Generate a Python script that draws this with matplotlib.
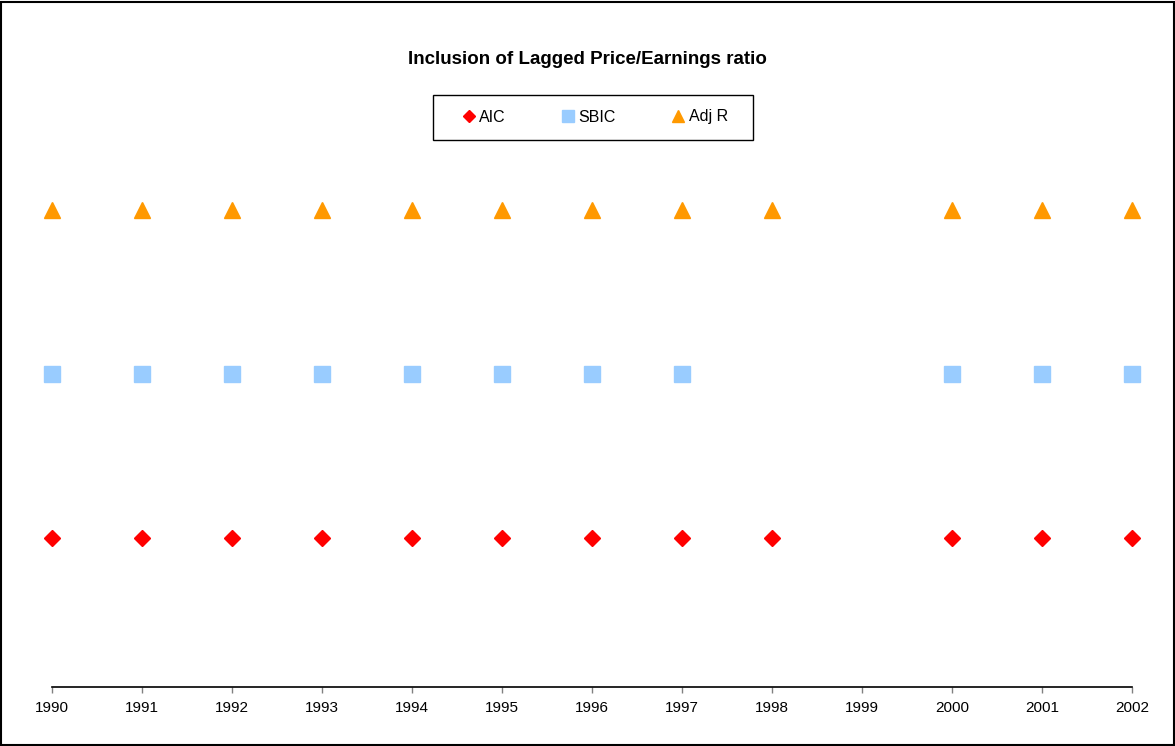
import numpy as np
import matplotlib.pyplot as plt
from matplotlib.patches import Rectangle

plt.rcParams['font.family'] = ['Liberation Sans', 'DejaVu Sans']

years = [1990, 1991, 1992, 1993, 1994, 1995, 1996, 1997, 1998, 1999, 2000, 2001, 2002]
aic = [1, 1, 1, 1, 1, 1, 1, 1, 1, np.nan, 1, 1, 1]
sbic = [2, 2, 2, 2, 2, 2, 2, 2, np.nan, np.nan, 2, 2, 2]
adj_r = [3, 3, 3, 3, 3, 3, 3, 3, 3, np.nan, 3, 3, 3]

fig = plt.figure(figsize=(11.75, 7.46), dpi=100)
ax = fig.add_axes([52 / 1175, 59 / 746, 1080 / 1175, 641 / 746])

ax.plot(years, aic, linestyle='none', marker='D', ms=8.5, color='#ff0000', mec='#ff0000',
        label='AIC', clip_on=False)
ax.plot(years, sbic, linestyle='none', marker='s', ms=12, color='#99ccff', mec='#99ccff',
        label='SBIC', clip_on=False)
ax.plot(years, adj_r, linestyle='none', marker='^', ms=12, color='#ff9900', mec='#ff9900',
        label='Adj R', clip_on=False)

ax.set_xlim(1990, 2002)
ax.set_ylim(0.09, 4)
ax.set_xticks(years)
ax.set_xticklabels([str(y) for y in years], fontsize=11)
ax.set_yticks([])
for s in ['top', 'right', 'left']:
    ax.spines[s].set_visible(False)
ax.spines['bottom'].set_linewidth(1.2)
ax.tick_params(axis='x', direction='out', length=4, width=1, color='#808080', pad=6)
ax.patch.set_alpha(0)

fig.text(587 / 1175, 1 - 59 / 746, 'Inclusion of Lagged Price/Earnings ratio',
         ha='center', va='center', fontsize=13.5, fontweight='bold')

# legend entries without frame, box drawn separately
leg = ax.legend(loc='center', bbox_to_anchor=(596 / 1175, 1 - 117 / 746),
                bbox_transform=fig.transFigure, ncol=3, fontsize=11.5,
                markerscale=0.75, handlelength=0.6, handletextpad=0.35,
                columnspacing=3.6, frameon=False)

fig.patches.append(Rectangle((433 / 1175, 1 - 140 / 746), 320 / 1175, 45 / 746,
                             transform=fig.transFigure, fill=False,
                             edgecolor='black', linewidth=1))

fig.patches.append(Rectangle((0.001, 0.001), 0.998, 0.996, transform=fig.transFigure,
                             fill=False, edgecolor='black', linewidth=1.5))

fig.savefig('out.png', dpi=100)
